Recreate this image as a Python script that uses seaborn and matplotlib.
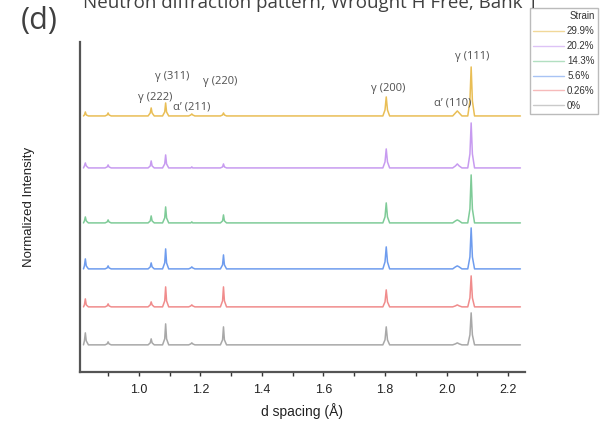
import numpy as np
import pandas as pd
import matplotlib
matplotlib.use("Agg")
import matplotlib.pyplot as plt
import seaborn as sns

# ---------------- data ----------------
d_spacing = [0.820, 0.823, 0.826, 0.829, 0.836,
             0.890, 0.897, 0.900, 0.903, 0.910,
             1.030, 1.037, 1.040, 1.043, 1.050,
             1.077, 1.084, 1.087, 1.090, 1.097,
             1.162, 1.169, 1.172, 1.175, 1.182,
             1.265, 1.272, 1.275, 1.278, 1.285,
             1.793, 1.800, 1.804, 1.808, 1.815,
             2.020, 2.029, 2.035, 2.041, 2.050,
             2.069, 2.076, 2.080, 2.084, 2.091,
             2.240]

strains = ["29.9%", "20.2%", "14.3%", "5.6%", "0.26%", "0%"]

int_299 = [0, 1, 4, 1, 0,  0, 1, 3, 1, 0,  0, 3, 8, 3, 0,  0, 4, 13, 4, 0,
           0, 1, 2, 1, 0,  0, 1, 3, 1, 0,  0, 6, 19, 6, 0,  0, 3, 5, 3, 0,
           0, 15, 49, 15, 0,  0]
int_202 = [0, 2, 5, 2, 0,  0, 1, 3, 1, 0,  0, 2, 7, 2, 0,  0, 4, 13, 4, 0,
           0, 0, 1, 0, 0,  0, 1, 4, 1, 0,  0, 6, 19, 6, 0,  0, 2, 4, 2, 0,
           0, 14, 45, 14, 0,  0]
int_143 = [0, 2, 6, 2, 0,  0, 1, 3, 1, 0,  0, 2, 7, 2, 0,  0, 5, 16, 5, 0,
           0, 0, 1, 0, 0,  0, 2, 8, 2, 0,  0, 6, 20, 6, 0,  0, 2, 3, 2, 0,
           0, 14, 48, 14, 0,  0]
int_56 = [0, 3, 10, 3, 0,  0, 1, 3, 1, 0,  0, 2, 6, 2, 0,  0, 6, 20, 6, 0,
          0, 1, 2, 1, 0,  0, 4, 14, 4, 0,  0, 7, 22, 7, 0,  0, 2, 3, 2, 0,
          0, 12, 41, 12, 0,  0]
int_026 = [0, 2, 8, 2, 0,  0, 1, 3, 1, 0,  0, 2, 5, 2, 0,  0, 6, 20, 6, 0,
           0, 1, 2, 1, 0,  0, 6, 20, 6, 0,  0, 5, 17, 5, 0,  0, 1, 2, 1, 0,
           0, 9, 31, 9, 0,  0]
int_0 = [0, 4, 12, 4, 0,  0, 1, 3, 1, 0,  0, 2, 6, 2, 0,  0, 6, 21, 6, 0,
         0, 1, 2, 1, 0,  0, 5, 18, 5, 0,  0, 5, 18, 5, 0,  0, 1, 2, 1, 0,
         0, 10, 32, 10, 0,  0]

# vertical stacking offsets of the patterns
offsets = [256, 204, 149, 103, 65, 27]

peak_labels = ["γ (111)", "γ (200)", "α’ (110)", "γ (311)", "γ (220)", "γ (222)", "α’ (211)"]
label_d = [2.083, 1.810, 2.021, 1.107, 1.263, 1.052, 1.172]
label_y = [315, 283, 269, 295, 290, 274, 265]

colors = ["#E9BE55", "#C79BF0", "#7FCB98", "#6E9CEE", "#F08C8C", "#A8A8A8"]

# ---------------- build long table ----------------
series = [int_299, int_202, int_143, int_56, int_026, int_0]
frames = []
for s, vals, off in zip(strains, series, offsets):
    frames.append(pd.DataFrame({"d": d_spacing,
                                "I": np.asarray(vals, float) + off,
                                "Strain": s}))
df = pd.concat(frames, ignore_index=True)

# ---------------- plot ----------------
sns.set_style("white")
plt.rcParams["font.family"] = ["Liberation Sans", "DejaVu Sans"]

fig = plt.figure(figsize=(6.0, 4.24), dpi=100)
ax = fig.add_axes([0.133, 0.123, 0.742, 0.778])

sns.lineplot(data=df, x="d", y="I", hue="Strain", hue_order=strains,
             palette=dict(zip(strains, colors)), estimator=None, sort=False,
             linewidth=1.1, ax=ax, legend=False)

ax.set_xlim(0.808, 2.255)
ax.set_ylim(0, 330)
ax.set_yticks([])
ax.set_xticks([1.0, 1.2, 1.4, 1.6, 1.8, 2.0, 2.2])
ax.set_xticks([0.9, 1.1, 1.3, 1.5, 1.7, 1.9, 2.1], minor=True)
ax.tick_params(axis="x", which="both", direction="out", bottom=True,
               length=3, width=1, color="#333333", labelsize=9,
               labelcolor="#222222", pad=6)
for side in ["top", "right"]:
    ax.spines[side].set_visible(False)
for side in ["left", "bottom"]:
    ax.spines[side].set_color("#555555")
    ax.spines[side].set_linewidth(1.6)

ax.set_xlabel("d spacing (Å)", fontsize=10, color="#222222", labelpad=5)
ax.set_ylabel("Normalized Intensity", fontsize=9.5, color="#222222", labelpad=32)

for lab, x, y in zip(peak_labels, label_d, label_y):
    ax.text(x, y, lab, ha="center", va="center", fontsize=8,
            color="#505050", family=["Open Sans", "DejaVu Sans"])

# legend
handles = [plt.Line2D([], [], color=c, lw=1.0, alpha=0.6) for c in colors]
leg = fig.legend(handles, strains, title="Strain", loc="upper right",
                 bbox_to_anchor=(0.997, 0.981), fontsize=7, title_fontsize=7,
                 frameon=True, fancybox=False, handlelength=3.2,
                 handletextpad=0.3, borderpad=0.35, labelspacing=0.5,
                 alignment="right", borderaxespad=0)
leg.get_frame().set_edgecolor("#AAAAAA")
leg.get_frame().set_linewidth(1.0)
for t in leg.get_texts():
    t.set_color("#333333")
leg.get_title().set_color("#333333")

# panel letter and (clipped, as in the source) title
fig.text(0.035, 0.950, "(d)", fontsize=22, color="#404040",
         family=["Open Sans", "DejaVu Sans"], va="center", ha="left")
fig.text(0.517, 0.982, "Neutron diffraction pattern, Wrought H Free, Bank 1",
         fontsize=13.5, color="#404040", family=["Open Sans", "DejaVu Sans"],
         ha="center", va="baseline", zorder=10)

fig.savefig("out.png", dpi=100)
